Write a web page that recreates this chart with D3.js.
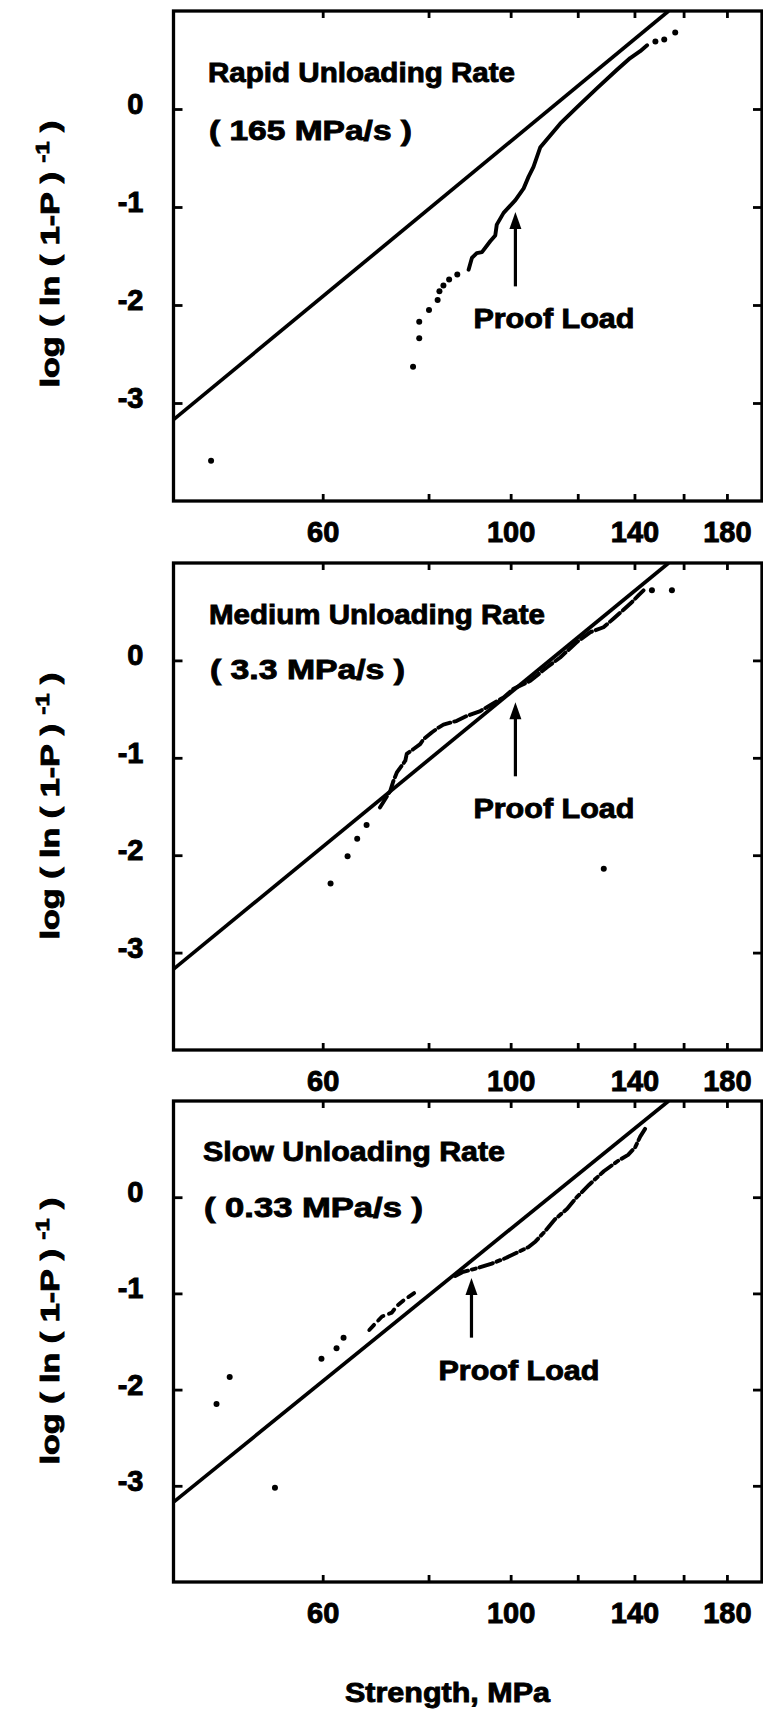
<!DOCTYPE html>
<html><head><meta charset="utf-8">
<script src="https://cdn.jsdelivr.net/npm/d3@7"></script>
<style>
html,body{margin:0;padding:0;background:#fff;}
svg{display:block;}
text{font-family:"Liberation Sans",Arial,Helvetica,sans-serif;font-weight:bold;fill:#000;stroke:#000;stroke-width:0.9px;}
</style></head><body>
<svg id="chart" width="763" height="1712"></svg>
<script>
// ---- axis definitions ----
const xDomain = [40, 198];
const yDomain = [-4, 1];
const xTicks = [60, 80, 100, 120, 140, 160, 180];
const xTickLabels = [60, 100, 140, 180];
const yTicks = [0, -1, -2, -3];
const yAxisTitle = ["log ( ln ( 1-P ) ", "-1", " )"];
const xAxisTitle = "Strength, MPa";

// ---- fitted Weibull line (same in all panels) ----
const fitLine = [[40, -3.17], [153.6, 1.0]];

// ---- panel texts ----
const panelTitles = ["Rapid Unloading Rate", "Medium Unloading Rate", "Slow Unloading Rate"];
const panelRates = ["( 165 MPa/s )", "( 3.3 MPa/s )", "( 0.33 MPa/s )"];
const proofLabel = "Proof Load";
const proofLoadStrength = [101.3, 101.3, 89.9];
const proofArrowTop = [-1.05, -0.43, -0.84];
const proofArrowBottom = [-1.81, -1.19, -1.46];

// ---- data: [strength MPa, log(ln(1/(1-P)))] ----
const rapidDots = [[44.3,-3.59],[76.7,-2.63],[78.0,-2.34],[78.0,-2.17],[80.1,-2.05],[82.0,-1.95],[82.4,-1.86],[83.3,-1.80],[84.6,-1.74],[86.5,-1.69],[148.2,0.69],[151.8,0.71],[156.4,0.78]];
const rapidCurve = [[89.2,-1.64],[90.0,-1.52],[91.2,-1.47],[92.5,-1.46],[94.6,-1.35],[95.9,-1.29],[96.3,-1.18],[98.1,-1.06],[101.3,-0.93],[103.6,-0.81],[105.0,-0.69],[106.4,-0.59],[108.4,-0.39],[114.4,-0.15],[119.8,0.02],[126.4,0.21],[133.5,0.40],[138.4,0.52],[142.2,0.59],[144.9,0.65]];

const mediumDots = [[61.3,-2.29],[64.2,-2.01],[65.9,-1.83],[67.6,-1.69],[128.8,-2.14],[146.8,0.72],[155.0,0.72]];
const mediumCurve = [[70.1,-1.51],[72.1,-1.34],[72.7,-1.24],[73.4,-1.15],[75.1,-1.03],[75.4,-0.96],[76.8,-0.91],[78.2,-0.86],[78.9,-0.81],[80.7,-0.74],[82.2,-0.69],[83.3,-0.66],[86.4,-0.62],[88.8,-0.57],[92.1,-0.52],[94.6,-0.46],[98.1,-0.38],[100.8,-0.29],[105.5,-0.21],[110.4,-0.07],[114.4,0.03],[119.8,0.19],[124.2,0.29],[128.7,0.34],[132.3,0.43],[135.9,0.52],[139.1,0.60],[141.6,0.67],[143.5,0.72]];

const slowDots = [[44.96,-2.15],[46.6,-1.87],[52.7,-3.02],[59.8,-1.68],[62.3,-1.57],[63.5,-1.46]];
const slowCurveLow = [[68.1,-1.38],[69.1,-1.32],[70.5,-1.24],[72.4,-1.20],[73.4,-1.13],[74.8,-1.07],[77.4,-0.98]];
const slowCurve = [[86.0,-0.82],[87.7,-0.78],[91.9,-0.73],[95.0,-0.69],[98.8,-0.63],[101.5,-0.58],[104.9,-0.52],[107.0,-0.46],[109.9,-0.35],[112.8,-0.23],[116.6,-0.12],[119.7,0.0],[123.8,0.13],[128.8,0.27],[134.0,0.38],[137.6,0.44],[140.3,0.52],[142.2,0.63],[144.1,0.71]];

// ---- layout (pixels) ----
const plotLeft = 173.5, plotRight = 762;
const panels = [
  {top: 11,   bottom: 501,  titleX: 208, titleY: 82,   rateY: 140,  titleW: 307, rateW: 203, labelDx: -42, yLabelC: 254,
   dots: rapidDots, curves: [{d: rapidCurve, dash: null}]},
  {top: 563,  bottom: 1050, titleX: 209, titleY: 624,  rateY: 679,  titleW: 336, rateW: 195, labelDx: -42, yLabelC: 806,
   dots: mediumDots, curves: [{d: mediumCurve, dash: "13,4"}]},
  {top: 1101, bottom: 1582, titleX: 203, titleY: 1161, rateY: 1217, titleW: 302, rateW: 219, labelDx: -33, yLabelC: 1331,
   dots: slowDots, curves: [{d: slowCurveLow, dash: "7,6"}, {d: slowCurve, dash: "14,4,4,4"}]}
];

const svg = d3.select("#chart");
const x = d3.scaleLog().domain(xDomain).range([plotLeft, plotRight]);

panels.forEach((p, i) => {
  const y = d3.scaleLinear().domain(yDomain).range([p.bottom, p.top]);
  const clipId = "clip" + i;
  svg.append("clipPath").attr("id", clipId).append("rect")
    .attr("x", plotLeft).attr("y", p.top).attr("width", plotRight - plotLeft).attr("height", p.bottom - p.top);

  // axes
  const bottomAxis = d3.axisBottom(x).tickValues(xTicks).tickSizeInner(-7).tickSizeOuter(0)
    .tickFormat(d => xTickLabels.includes(d) ? String(d) : "");
  const gb = svg.append("g").attr("transform", `translate(0,${p.bottom})`).call(bottomAxis);
  gb.selectAll("text").attr("y", 41).attr("dy", null).style("font-size", "29px");

  const gt = svg.append("g").attr("transform", `translate(0,${p.top})`)
    .call(d3.axisTop(x).tickValues(xTicks).tickSizeInner(-7).tickSizeOuter(0).tickFormat(""));

  const leftAxis = d3.axisLeft(y).tickValues(yTicks).tickSizeInner(-9).tickSizeOuter(0)
    .tickFormat(d => d === 0 ? "0" : "-" + Math.abs(d));
  const gl = svg.append("g").attr("transform", `translate(${plotLeft},0)`).call(leftAxis);
  gl.selectAll("text").attr("x", -30).attr("dy", null).attr("y", 4.5).style("font-size", "29px");

  const gr = svg.append("g").attr("transform", `translate(${plotRight},0)`)
    .call(d3.axisRight(y).tickValues(yTicks).tickSizeInner(-9).tickSizeOuter(0).tickFormat(""));

  [gb, gt, gl, gr].forEach(g => {
    g.select(".domain").remove();
    g.selectAll("line").attr("stroke", "#000").attr("stroke-width", 2.8);
    g.selectAll("text").attr("fill", "#000");
    g.attr("font-family", null).attr("font-size", null);
  });

  // frame
  svg.append("rect").attr("x", plotLeft).attr("y", p.top)
    .attr("width", plotRight - plotLeft).attr("height", p.bottom - p.top)
    .attr("fill", "none").attr("stroke", "#000").attr("stroke-width", 3.3);

  const plot = svg.append("g").attr("clip-path", `url(#${clipId})`);
  const lineGen = d3.line().x(d => x(d[0])).y(d => y(d[1]));

  // fitted line
  plot.append("path").attr("d", lineGen(fitLine))
    .attr("fill", "none").attr("stroke", "#000").attr("stroke-width", 3.7);

  // data curves
  p.curves.forEach(c => {
    plot.append("path").attr("d", lineGen(c.d))
      .attr("fill", "none").attr("stroke", "#000").attr("stroke-width", 3.9)
      .attr("stroke-linecap", "round").attr("stroke-linejoin", "round")
      .attr("stroke-dasharray", c.dash);
  });

  // data dots
  plot.selectAll(null).data(p.dots).enter().append("circle")
    .attr("cx", d => x(d[0])).attr("cy", d => y(d[1])).attr("r", 3).attr("fill", "#000");

  // titles
  svg.append("text").attr("x", p.titleX).attr("y", p.titleY)
    .attr("textLength", p.titleW).attr("lengthAdjust", "spacingAndGlyphs")
    .style("font-size", "28px").text(panelTitles[i]);
  svg.append("text").attr("x", p.titleX + 1).attr("y", p.rateY)
    .attr("textLength", p.rateW).attr("lengthAdjust", "spacingAndGlyphs")
    .style("font-size", "28px").text(panelRates[i]);

  // proof load arrow
  const ax = x(proofLoadStrength[i]);
  const yt = y(proofArrowTop[i]);
  const yb = y(proofArrowBottom[i]);
  svg.append("line").attr("x1", ax).attr("x2", ax).attr("y1", yb).attr("y2", yt + 12)
    .attr("stroke", "#000").attr("stroke-width", 3.2);
  svg.append("path").attr("d", `M${ax},${yt} L${ax - 6},${yt + 17} L${ax + 6},${yt + 17} Z`).attr("fill", "#000");
  svg.append("text").attr("x", ax + p.labelDx).attr("y", yb + 42)
    .attr("textLength", 161).attr("lengthAdjust", "spacingAndGlyphs")
    .style("font-size", "28px").text(proofLabel);

  // y-axis title (rotated)
  const yt2 = svg.append("text")
    .attr("transform", `translate(59,${p.yLabelC}) rotate(-90)`)
    .attr("text-anchor", "middle")
    .attr("textLength", 267).attr("lengthAdjust", "spacingAndGlyphs")
    .style("font-size", "26px");
  yt2.append("tspan").text(yAxisTitle[0]);
  yt2.append("tspan").attr("dy", -10).style("font-size", "18px").text(yAxisTitle[1]);
  yt2.append("tspan").attr("dy", 10).text(yAxisTitle[2]);
});

// x-axis title
svg.append("text").attr("x", 345).attr("y", 1702)
  .attr("textLength", 205).attr("lengthAdjust", "spacingAndGlyphs")
  .style("font-size", "28px").text(xAxisTitle);
</script>
</body></html>
